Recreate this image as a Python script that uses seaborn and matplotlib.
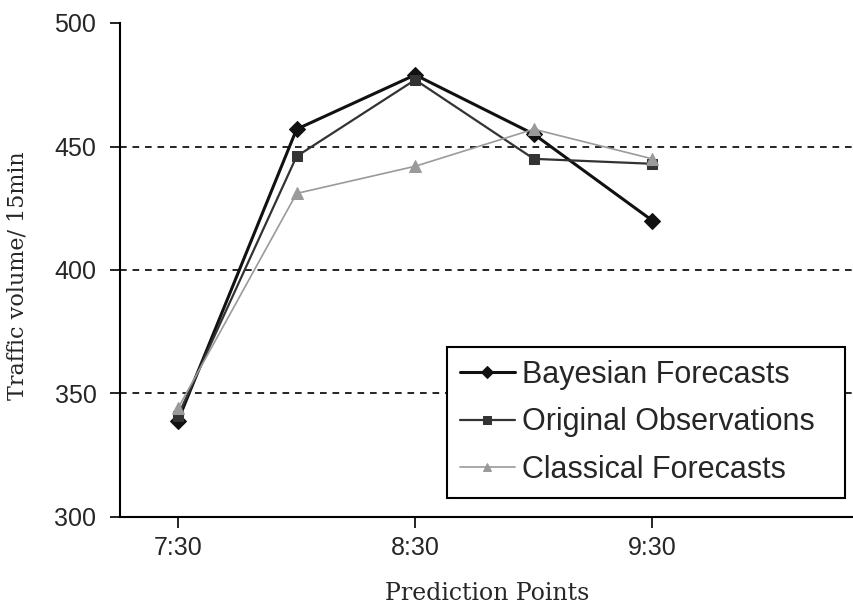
import matplotlib
matplotlib.use("Agg")
import matplotlib.pyplot as plt
import seaborn as sns
import pandas as pd

# Prediction points (every 30 minutes) and traffic volumes per 15 min
times = ["7:30", "8:00", "8:30", "9:00", "9:30"]
bayesian = [339, 457, 479, 455, 420]
original = [341, 446, 477, 445, 443]
classical = [344, 431, 442, 457, 445]
tick_labels = ["7:30", "8:30", "9:30"]

df = pd.DataFrame({
    "t": range(len(times)),
    "Bayesian Forecasts": bayesian,
    "Original Observations": original,
    "Classical Forecasts": classical,
})

sns.set_theme(style="white")
plt.rcParams["font.family"] = ["Liberation Sans", "DejaVu Sans"]

fig = plt.figure(figsize=(8.54, 6.13), dpi=100)
ax = fig.add_axes([120 / 854, 96 / 613, 734 / 854, 494 / 613])

styles = [
    ("Bayesian Forecasts", "#111111", "D", 2.2, 8),
    ("Original Observations", "#333333", "s", 1.6, 7.5),
    ("Classical Forecasts", "#9a9a9a", "^", 1.2, 8),
]
for name, color, marker, lw, ms in styles:
    sns.lineplot(data=df, x="t", y=name, ax=ax, color=color, marker=marker,
                 markersize=ms, markeredgecolor=color, linewidth=lw,
                 label=name, sort=False)

ax.set_xlim(-0.489, 5.70)
ax.set_ylim(300, 500)
ax.set_xticks([0, 2, 4])
ax.set_xticklabels(tick_labels)
ax.set_yticks([300, 350, 400, 450, 500])

for y in [350, 400, 450]:
    ax.axhline(y, color="black", linestyle=(0, (4, 3.5)), linewidth=1.2, zorder=0)

for side in ["top", "right"]:
    ax.spines[side].set_visible(False)
for side in ["left", "bottom"]:
    ax.spines[side].set_color("black")
    ax.spines[side].set_linewidth(1.5)

ax.tick_params(axis="x", direction="out", length=8, width=1.2, color="black",
               labelsize=18, pad=6, bottom=True)
ax.tick_params(axis="y", direction="out", length=7, width=1.2, color="black",
               labelsize=18, pad=10, left=True)

ax.set_xlabel("Prediction Points", family="DejaVu Serif", fontsize=17)
ax.set_ylabel("Traffic volume/ 15min", family="DejaVu Serif", fontsize=16)
ax.xaxis.set_label_coords(0.5, -0.132)
ax.yaxis.set_label_coords(-0.124, 0.488)

leg = ax.legend(loc="lower left", bbox_to_anchor=(0.4455, 0.0385, 0.5422, 0.3),
                mode="expand", fontsize=22, frameon=True, fancybox=False,
                framealpha=1, edgecolor="black", handlelength=1.8,
                handletextpad=0.25, labelspacing=0.58, borderpad=0.42,
                borderaxespad=0)
leg.get_frame().set_linewidth(1.5)
for h in leg.legend_handles:
    h.set_markersize(6)

fig.savefig("out.png", dpi=100)
